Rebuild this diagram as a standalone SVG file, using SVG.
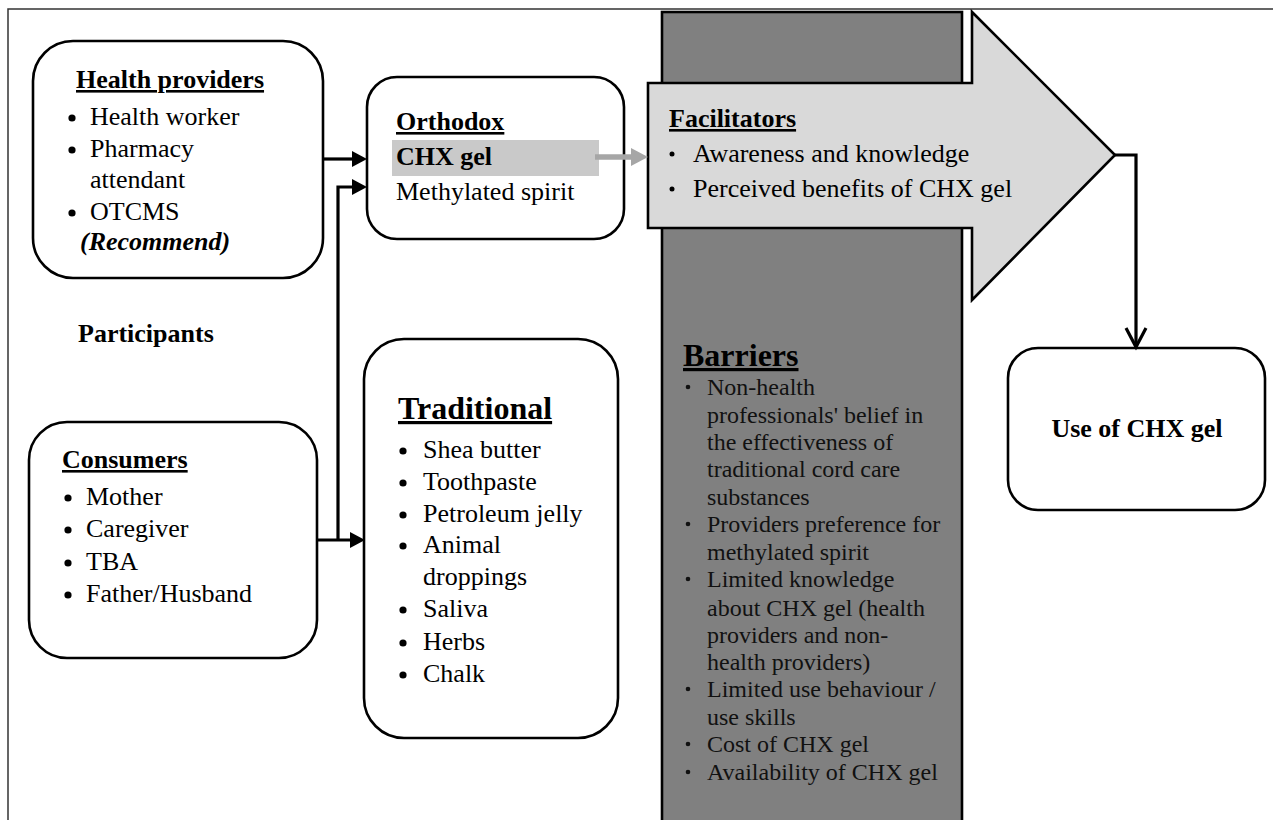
<svg xmlns="http://www.w3.org/2000/svg" width="1273" height="820" viewBox="0 0 1273 820">
<defs>
<style>
.box{fill:#fff;stroke:#000;stroke-width:2.6}
.t{font-family:"Liberation Serif","Times New Roman",serif;font-size:26px;fill:#000}
.b{font-weight:bold}
.u{text-decoration:underline}
.bt{font-family:"Liberation Serif","Times New Roman",serif;font-size:24px;fill:#111}
.con{fill:none;stroke:#000;stroke-width:3.2}
.dot{fill:#000}
</style>
</defs>
<rect x="0" y="0" width="1273" height="820" fill="#fff"/>
<rect x="8" y="9" width="1280" height="830" fill="none" stroke="#333" stroke-width="1.5"/>

<g id="barriers">
<rect x="662" y="12" width="300" height="830" fill="#808080" stroke="#000" stroke-width="2.6"/>
<text class="t b u" x="683" y="366" style="font-size:32px">Barriers</text>
<g class="bt">
<text x="707" y="395">Non-health</text>
<text x="707" y="423">professionals' belief in</text>
<text x="707" y="450">the effectiveness of</text>
<text x="707" y="477">traditional cord care</text>
<text x="707" y="505">substances</text>
<text x="707" y="532">Providers preference for</text>
<text x="707" y="560">methylated spirit</text>
<text x="707" y="587">Limited knowledge</text>
<text x="707" y="616">about CHX gel (health</text>
<text x="707" y="643">providers and non-</text>
<text x="707" y="670">health providers)</text>
<text x="707" y="697">Limited use behaviour /</text>
<text x="707" y="725">use skills</text>
<text x="707" y="752">Cost of CHX gel</text>
<text x="707" y="780">Availability of CHX gel</text>
</g>
<g fill="#111">
<circle cx="688" cy="387" r="2.3"/>
<circle cx="688" cy="524" r="2.3"/>
<circle cx="688" cy="579" r="2.3"/>
<circle cx="688" cy="689" r="2.3"/>
<circle cx="688" cy="744" r="2.3"/>
<circle cx="688" cy="772" r="2.3"/>
</g>
</g>

<g id="facilitators">
<polygon points="648,83 972,83 972,12 1115,155 972,300 972,228 648,228" fill="#d9d9d9" stroke="#000" stroke-width="2.6" stroke-linejoin="miter"/>
<text class="t b u" x="669" y="127">Facilitators</text>
<text class="t" x="693" y="162">Awareness and knowledge</text>
<text class="t" x="693" y="197">Perceived benefits of CHX gel</text>
<circle cx="672" cy="154" r="2.5" class="dot"/>
<circle cx="672" cy="189" r="2.5" class="dot"/>
</g>

<g id="health-providers">
<rect class="box" x="33" y="41" width="290" height="237" rx="40"/>
<text class="t b u" x="76" y="88">Health providers</text>
<text class="t" x="90" y="125">Health worker</text>
<text class="t" x="90" y="157">Pharmacy</text>
<text class="t" x="90" y="188">attendant</text>
<text class="t" x="90" y="220">OTCMS</text>
<text class="t b" x="80" y="250" font-style="italic">(Recommend)</text>
<circle cx="72" cy="118" r="3.6" class="dot"/>
<circle cx="72" cy="150" r="3.6" class="dot"/>
<circle cx="72" cy="213" r="3.6" class="dot"/>
</g>

<g id="orthodox">
<rect class="box" x="367" y="77" width="257" height="162" rx="30"/>
<rect x="392" y="140" width="207" height="36" fill="#c9c9c9"/>
<text class="t b u" x="396" y="130">Orthodox</text>
<text class="t b" x="396" y="165">CHX gel</text>
<text class="t" x="396" y="200">Methylated spirit</text>
</g>

<g id="participants-label">
<text class="t b" x="78" y="342">Participants</text>
</g>

<g id="consumers">
<rect class="box" x="29" y="422" width="288" height="236" rx="38"/>
<text class="t b u" x="62" y="468">Consumers</text>
<text class="t" x="86" y="505">Mother</text>
<text class="t" x="86" y="537">Caregiver</text>
<text class="t" x="86" y="570">TBA</text>
<text class="t" x="86" y="602">Father/Husband</text>
<circle cx="68" cy="498" r="3.6" class="dot"/>
<circle cx="68" cy="530" r="3.6" class="dot"/>
<circle cx="68" cy="563" r="3.6" class="dot"/>
<circle cx="68" cy="595" r="3.6" class="dot"/>
</g>

<g id="traditional">
<rect class="box" x="364" y="339" width="254" height="399" rx="40"/>
<text class="t b u" x="398" y="419" style="font-size:32px">Traditional</text>
<text class="t" x="423" y="458">Shea butter</text>
<text class="t" x="423" y="490">Toothpaste</text>
<text class="t" x="423" y="522">Petroleum jelly</text>
<text class="t" x="423" y="553">Animal</text>
<text class="t" x="423" y="585">droppings</text>
<text class="t" x="423" y="617">Saliva</text>
<text class="t" x="423" y="650">Herbs</text>
<text class="t" x="423" y="682">Chalk</text>
<circle cx="403" cy="451" r="3.6" class="dot"/>
<circle cx="403" cy="483" r="3.6" class="dot"/>
<circle cx="403" cy="515" r="3.6" class="dot"/>
<circle cx="403" cy="546" r="3.6" class="dot"/>
<circle cx="403" cy="610" r="3.6" class="dot"/>
<circle cx="403" cy="643" r="3.6" class="dot"/>
<circle cx="403" cy="675" r="3.6" class="dot"/>
</g>

<g id="use-chx">
<rect class="box" x="1008" y="348" width="257" height="162" rx="30"/>
<text class="t b" x="1137" y="437" text-anchor="middle">Use of CHX gel</text>
</g>

<g id="connectors">
<path class="con" d="M323,159 H353"/>
<polygon points="352,151 367,159 352,167" fill="#000"/>
<path class="con" d="M317,540 H351"/>
<polygon points="350,532 365,540 350,548" fill="#000"/>
<path class="con" d="M338,541 V187 H353"/>
<polygon points="352,179 367,187 352,195" fill="#000"/>
<path d="M595,157 H634" fill="none" stroke="#a6a6a6" stroke-width="5.5"/>
<polygon points="631,148 648,157 631,166" fill="#a6a6a6"/>
<path class="con" d="M1115,155 H1136 V346"/>
<polyline points="1126,328 1136,347 1146,328" fill="none" stroke="#000" stroke-width="3.2"/>
</g>
</svg>
